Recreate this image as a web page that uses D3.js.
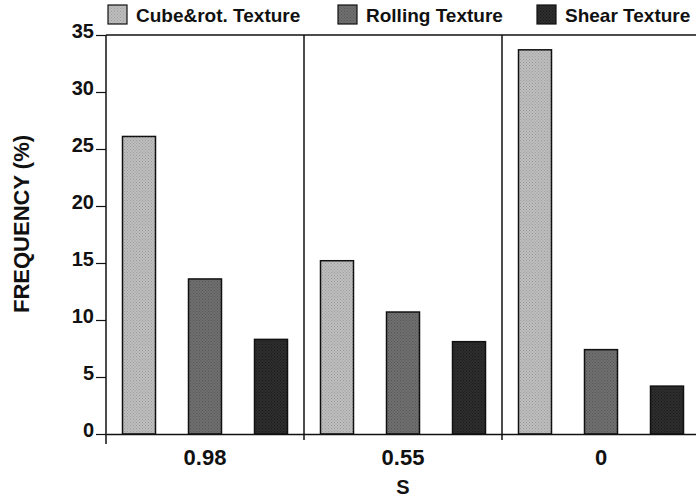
<!DOCTYPE html>
<html>
<head>
<meta charset="utf-8">
<script src="https://cdn.jsdelivr.net/npm/d3@7"></script>
<style>
  body { margin: 0; background: #fff; }
  svg { display: block; font-family: "Liberation Sans", Arial, sans-serif; font-weight: bold; }
</style>
</head>
<body>
<svg id="chart" width="696" height="497"></svg>
<script>
var groups = ["0.98", "0.55", "0"];
var seriesNames = ["Cube&rot. Texture", "Rolling Texture", "Shear Texture"];
var cubeValues = [26.1, 15.2, 33.7];
var rollingValues = [13.6, 10.7, 7.4];
var shearValues = [8.3, 8.1, 4.2];
var yTicks = [0, 5, 10, 15, 20, 25, 30, 35];

var seriesValues = [cubeValues, rollingValues, shearValues];
var fills = [
  {base: "#bebebe", dot: "#9c9c9c"},
  {base: "#707070", dot: "#555555"},
  {base: "#2e2e2e", dot: "#1a1a1a"}
];

var margin = {top: 35, right: -4, bottom: 63, left: 106},
    width = 696 - margin.left - margin.right,
    height = 497 - margin.top - margin.bottom;

var svg = d3.select("#chart");

// stipple patterns for the bars
var defs = svg.append("defs");
fills.forEach(function(f, i) {
  var p = defs.append("pattern")
      .attr("id", "pat" + i)
      .attr("width", 3)
      .attr("height", 3)
      .attr("patternUnits", "userSpaceOnUse");
  p.append("rect").attr("width", 3).attr("height", 3).attr("fill", f.base);
  p.append("rect").attr("width", 1).attr("height", 1).attr("fill", f.dot);
  p.append("rect").attr("x", 1.5).attr("y", 1.5).attr("width", 1).attr("height", 1).attr("fill", f.dot);
});

var g = svg.append("g")
    .attr("transform", "translate(" + margin.left + "," + margin.top + ")");

var x0 = d3.scaleBand().domain(groups).range([0, width]).padding(0);
var x1 = d3.scaleBand().domain(d3.range(seriesNames.length)).range([0, x0.bandwidth()])
    .paddingInner(0.5).paddingOuter(0.25);
var y = d3.scaleLinear().domain([0, 35]).range([height, 0]);

// bars
groups.forEach(function(grp, gi) {
  seriesValues.forEach(function(vals, si) {
    g.append("rect")
        .attr("x", x0(grp) + x1(si))
        .attr("y", y(vals[gi]))
        .attr("width", x1.bandwidth())
        .attr("height", y(0) - y(vals[gi]))
        .attr("fill", "url(#pat" + si + ")")
        .attr("stroke", "#111")
        .attr("stroke-width", 1.5);
  });
});

// group dividers
groups.slice(1).forEach(function(grp) {
  g.append("line")
      .attr("x1", x0(grp)).attr("x2", x0(grp))
      .attr("y1", 0).attr("y2", height + 6)
      .attr("stroke", "#111").attr("stroke-width", 1.5);
});

// top frame line
g.append("line")
    .attr("x1", 0).attr("x2", width)
    .attr("y1", 0).attr("y2", 0)
    .attr("stroke", "#111").attr("stroke-width", 1.5);

// y axis
var yAxis = g.append("g")
    .call(d3.axisLeft(y).tickValues(yTicks).tickSize(10).tickPadding(2).tickSizeOuter(0));
yAxis.select(".domain").remove();
yAxis.append("line")
    .attr("x1", 0).attr("x2", 0).attr("y1", 0).attr("y2", height + 10)
    .attr("stroke", "#111").attr("stroke-width", 1.5);
yAxis.selectAll(".tick line").attr("stroke", "#111").attr("stroke-width", 1.2);
yAxis.selectAll(".tick text")
    .attr("fill", "#111")
    .attr("font-size", 20)
    .attr("font-weight", "bold")
    .attr("font-family", "Liberation Sans, Arial, sans-serif")
    .attr("dy", "0.1em");

// x axis
var xAxis = g.append("g")
    .attr("transform", "translate(0," + height + ")")
    .call(d3.axisBottom(x0).tickSize(0).tickPadding(15).tickSizeOuter(0));
xAxis.select(".domain").attr("stroke", "#111").attr("stroke-width", 1.5);
xAxis.selectAll(".tick text")
    .attr("fill", "#111")
    .attr("font-size", 22)
    .attr("font-weight", "bold")
    .attr("font-family", "Liberation Sans, Arial, sans-serif");

// axis titles
svg.append("text")
    .attr("x", margin.left + x0("0.55") + x0.bandwidth() / 2)
    .attr("y", 494)
    .attr("text-anchor", "middle")
    .attr("font-size", 20)
    .attr("fill", "#111")
    .text("S");

svg.append("text")
    .attr("transform", "translate(29,224) rotate(-90)")
    .attr("text-anchor", "middle")
    .attr("font-size", 22)
    .attr("fill", "#111")
    .text("FREQUENCY (%)");

// legend
var legendX = [108, 338, 537];
seriesNames.forEach(function(name, i) {
  var lg = svg.append("g").attr("transform", "translate(" + legendX[i] + ",5)");
  lg.append("rect")
      .attr("width", 19).attr("height", 19)
      .attr("fill", "url(#pat" + i + ")")
      .attr("stroke", "#111").attr("stroke-width", 1.2);
  lg.append("text")
      .attr("x", 28).attr("y", 17)
      .attr("font-size", 19)
      .attr("fill", "#111")
      .text(name);
});
</script>
</body>
</html>
